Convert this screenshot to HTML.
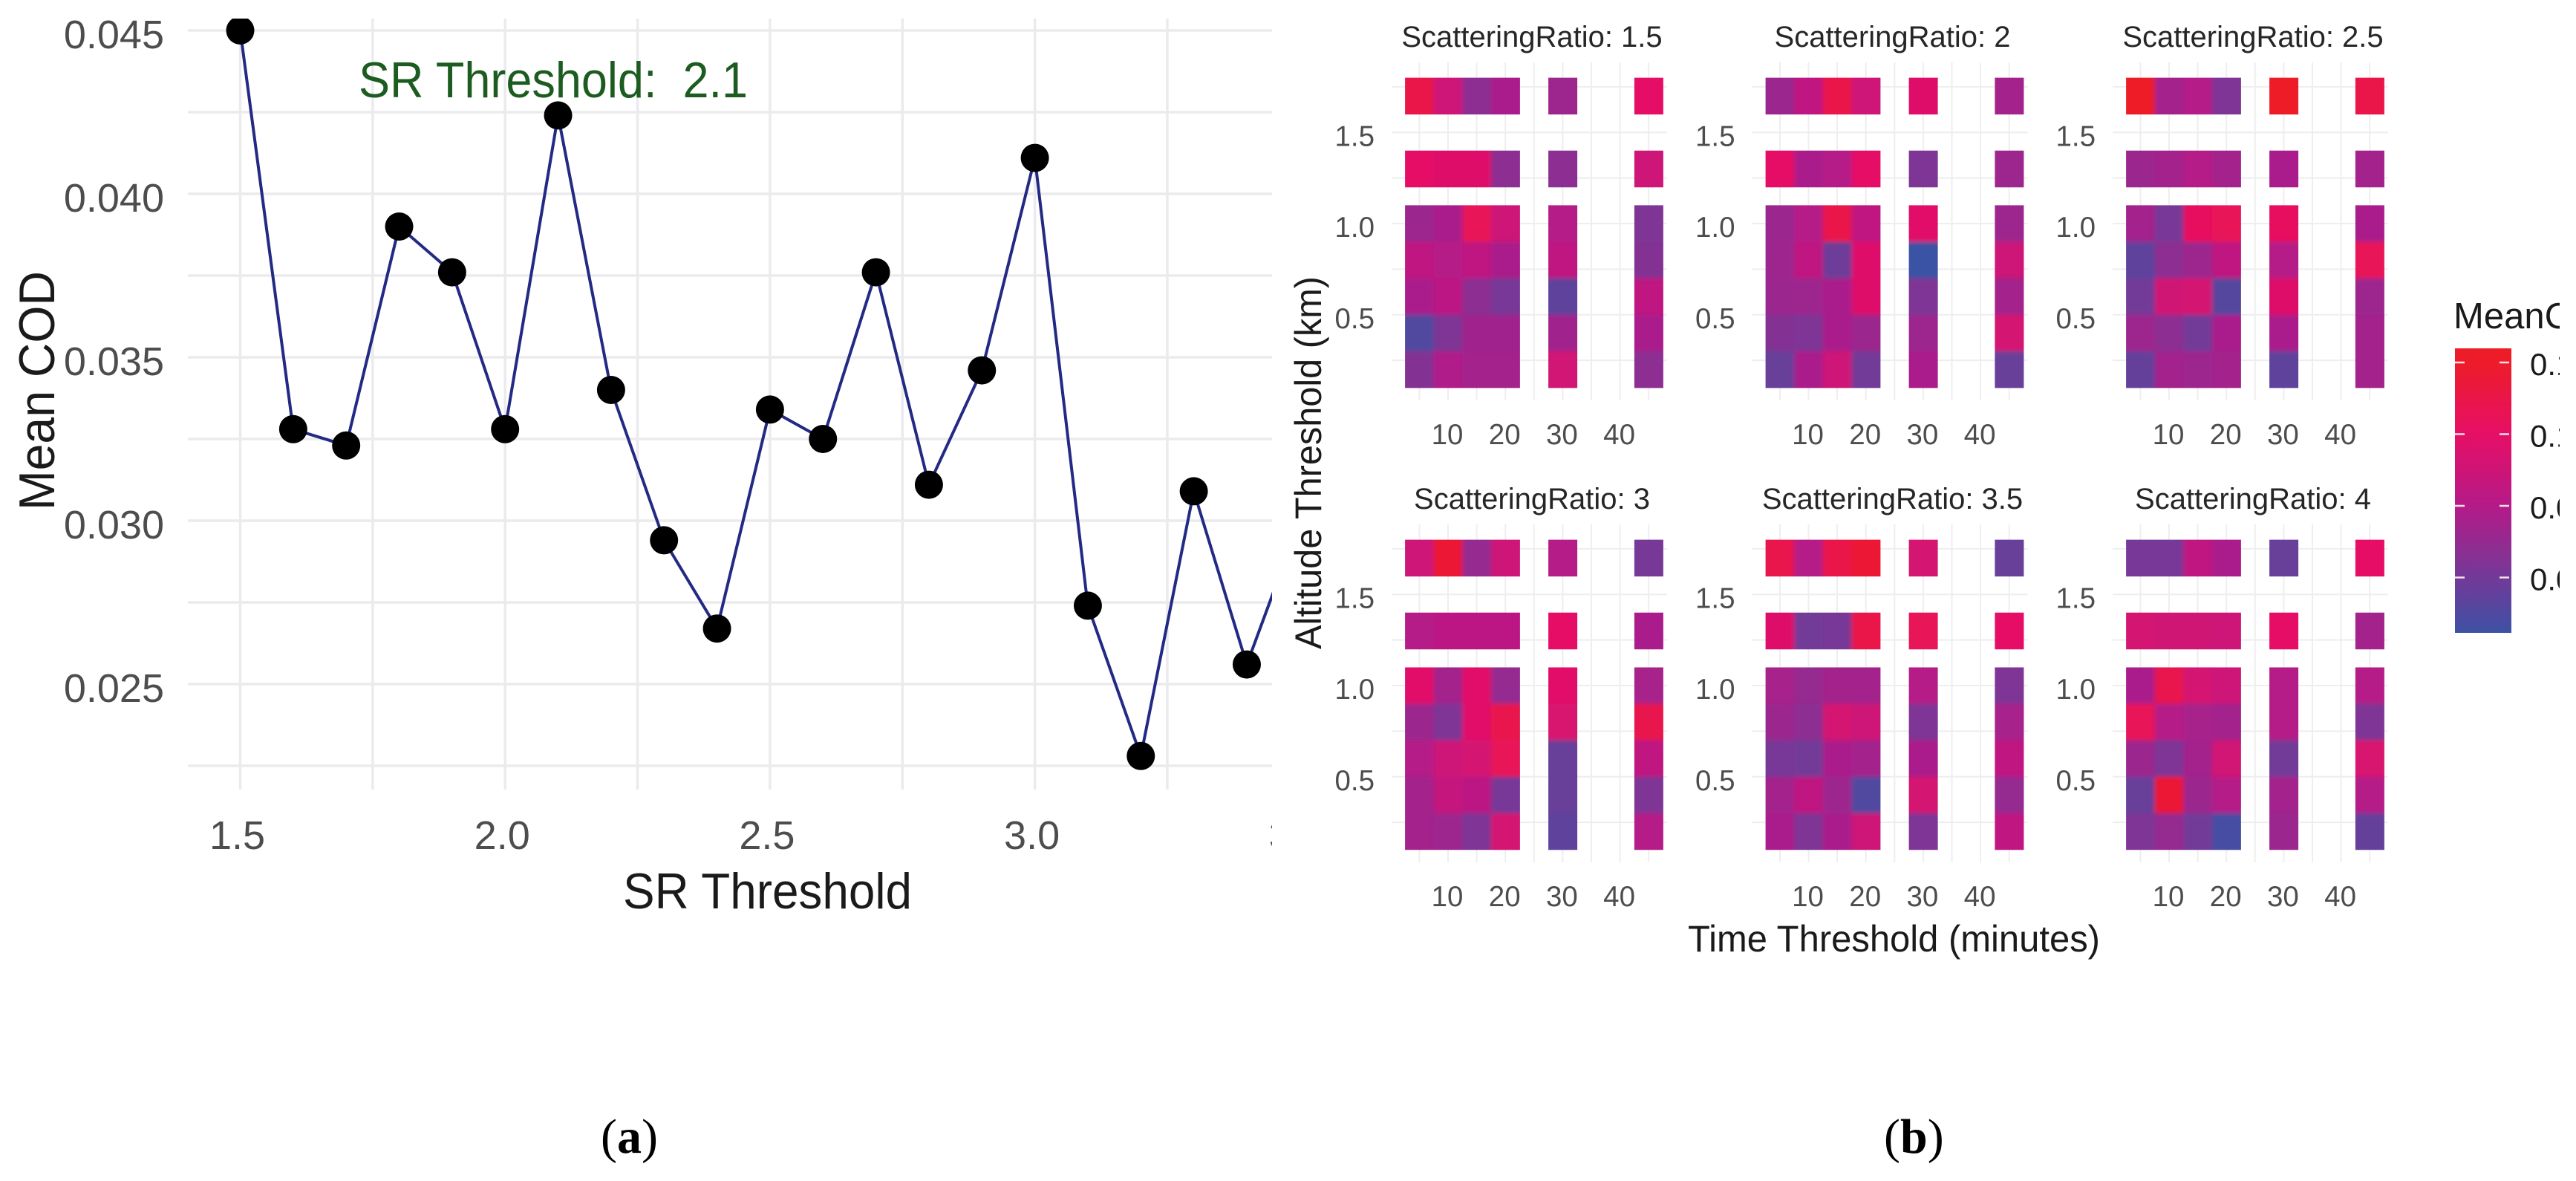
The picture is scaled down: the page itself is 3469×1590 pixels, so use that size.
<!DOCTYPE html>
<html lang="en">
<head>
<meta charset="utf-8">
<title>Mean COD by SR Threshold and heatmap panels</title>
<style>
html,body{margin:0;padding:0;background:#fff;}
svg{display:block;font-family:"Liberation Sans",sans-serif;}
</style>
</head>
<body>
<svg id="figure" xmlns="http://www.w3.org/2000/svg" width="3469" height="1590" viewBox="0 0 3469 1590">
  <defs>
    <clipPath id="left-clip"><rect x="0" y="25" width="1713" height="1180"/></clipPath>
    <clipPath id="legend-clip"><rect x="3290" y="390" width="157" height="480"/></clipPath>
    <linearGradient id="legend-gradient" x1="0" y1="1" x2="0" y2="0"></linearGradient>
    <filter id="tile-blur" x="-5%" y="-5%" width="110%" height="110%"><feGaussianBlur stdDeviation="3"/></filter>
  </defs>
  <rect x="0" y="0" width="3469" height="1590" fill="#ffffff"/>

  <g id="line-chart" clip-path="url(#left-clip)">
    <g id="line-grid"></g>
    <g id="line-ticks"></g>
    <path id="cod-line" fill="none" stroke="#232a84" stroke-width="4" stroke-linejoin="round"/>
    <g id="cod-points"></g>
  </g>
  <text x="483" y="131" font-size="68" fill="#1c5c20" textLength="524" lengthAdjust="spacingAndGlyphs" xml:space="preserve">SR Threshold:  2.1</text>
  <text x="839" y="1223" font-size="68" fill="#1a1a1a" textLength="389" lengthAdjust="spacingAndGlyphs">SR Threshold</text>
  <text transform="translate(73,687) rotate(-90)" x="0" y="0" font-size="68" fill="#1a1a1a" textLength="322" lengthAdjust="spacingAndGlyphs">Mean COD</text>

  <g id="heatmap-panels"></g>
  <text transform="translate(1779,874) rotate(-90)" x="0" y="0" font-size="50" fill="#1a1a1a" textLength="502" lengthAdjust="spacingAndGlyphs">Altitude Threshold (km)</text>
  <text x="2273" y="1281" font-size="50" fill="#1a1a1a" textLength="555" lengthAdjust="spacingAndGlyphs">Time Threshold (minutes)</text>

  <g id="legend" clip-path="url(#legend-clip)">
    <text x="3304" y="442" font-size="49" fill="#1a1a1a">MeanCOD</text>
    <rect id="legend-bar" x="3306" y="469" width="76" height="383" fill="url(#legend-gradient)"/>
    <g id="legend-ticks"></g>
  </g>

  <text x="809" y="1552" font-family="'Liberation Serif',serif" font-size="66" fill="#000">(<tspan font-weight="bold">a</tspan>)</text>
  <text x="2537" y="1552" font-family="'Liberation Serif',serif" font-size="66" fill="#000">(<tspan font-weight="bold">b</tspan>)</text>
</svg>

<script>
/* ---------- line chart data ---------- */
var srThresholds = [1.5,1.6,1.7,1.8,1.9,2.0,2.1,2.2,2.3,2.4,2.5,2.6,2.7,2.8,2.9,3.0,3.1,3.2,3.3,3.4,3.5];
var meanCOD = [0.0450,0.0328,0.0323,0.0390,0.0376,0.0328,0.0424,0.0340,0.0294,0.0267,0.0334,0.0325,0.0376,0.0311,0.0346,0.0411,0.0274,0.0228,0.0309,0.0256,0.0300];
var lineXTicks = ["1.5","2.0","2.5","3.0","3.5"];
var lineYTicks = ["0.025","0.030","0.035","0.040","0.045"];

/* ---------- heatmap data: rows follow altitudes, columns follow timeBins ---------- */
var timeBins = [5,10,15,20,30,45];
var altitudes = [1.7,1.3,1.0,0.8,0.6,0.4,0.2];
var timeTicks = ["10","20","30","40"];
var altitudeTicks = ["0.5","1.0","1.5"];
var panelTitles = ["ScatteringRatio: 1.5","ScatteringRatio: 2","ScatteringRatio: 2.5","ScatteringRatio: 3","ScatteringRatio: 3.5","ScatteringRatio: 4"];
var codSR15 = [
 [.112,.087,.060,.071,.066,.100],
 [.100,.096,.096,.060,.060,.087],
 [.065,.071,.106,.087,.075,.054],
 [.080,.075,.080,.071,.080,.056],
 [.071,.078,.060,.052,.043,.080],
 [.038,.054,.067,.067,.067,.071],
 [.056,.073,.068,.068,.090,.060]];
var codSR20 = [
 [.065,.080,.112,.087,.096,.068],
 [.100,.071,.075,.100,.054,.066],
 [.065,.075,.112,.080,.098,.066],
 [.066,.080,.048,.096,.030,.087],
 [.065,.066,.071,.096,.054,.068],
 [.056,.054,.071,.065,.066,.091],
 [.046,.071,.087,.050,.071,.046]];
var codSR25 = [
 [.130,.068,.075,.054,.130,.112],
 [.065,.068,.075,.068,.071,.068],
 [.068,.052,.103,.106,.103,.071],
 [.043,.060,.066,.080,.075,.106],
 [.050,.089,.091,.040,.096,.066],
 [.066,.060,.050,.071,.071,.068],
 [.045,.068,.066,.068,.043,.068]];
var codSR30 = [
 [.087,.120,.063,.087,.075,.052],
 [.075,.078,.078,.078,.100,.071],
 [.098,.068,.098,.063,.098,.070],
 [.065,.054,.098,.110,.093,.110],
 [.075,.087,.091,.106,.046,.080],
 [.068,.083,.078,.052,.046,.054],
 [.068,.066,.054,.091,.043,.075]];
var codSR35 = [
 [.110,.075,.112,.120,.091,.046],
 [.096,.050,.052,.112,.106,.100],
 [.070,.063,.068,.068,.075,.054],
 [.065,.060,.091,.087,.054,.070],
 [.052,.050,.071,.068,.071,.080],
 [.068,.080,.066,.038,.091,.063],
 [.071,.054,.071,.087,.054,.080]];
var codSR40 = [
 [.052,.052,.080,.071,.046,.100],
 [.091,.089,.089,.087,.100,.068],
 [.071,.110,.091,.087,.075,.075],
 [.106,.075,.070,.068,.075,.054],
 [.065,.054,.068,.090,.050,.093],
 [.046,.120,.065,.075,.068,.075],
 [.054,.063,.050,.034,.065,.045]];
var panelValues = [codSR15,codSR20,codSR25,codSR30,codSR35,codSR40];
var legendTicks = ["0.125","0.100","0.075","0.050"];

/* ---------- helpers ---------- */
var NS = "http://www.w3.org/2000/svg";
function mk(tag, attrs, parent){
  var el = document.createElementNS(NS, tag);
  for (var k in attrs) el.setAttribute(k, attrs[k]);
  parent.appendChild(el);
  return el;
}
/* colour scale */
var scaleV = [0.030,0.050,0.075,0.100,0.125,0.130];
var scaleC = [[59,82,164],[115,58,152],[181,26,136],[230,15,102],[238,28,42],[238,28,37]];
function fillOf(v){
  if (v <= scaleV[0]) return "rgb("+scaleC[0].join(",")+")";
  for (var i=1;i<scaleV.length;i++){
    if (v <= scaleV[i]){
      var t=(v-scaleV[i-1])/(scaleV[i]-scaleV[i-1]);
      var a=scaleC[i-1], b=scaleC[i];
      return "rgb("+Math.round(a[0]+(b[0]-a[0])*t)+","+Math.round(a[1]+(b[1]-a[1])*t)+","+Math.round(a[2]+(b[2]-a[2])*t)+")";
    }
  }
  return "rgb("+scaleC[5].join(",")+")";
}

/* ---------- line chart ---------- */
function lineX(sr){ return 323.5 + (sr-1.5)*713.4; }
function lineY(v){ return 41 + (0.045-v)*44000; }
(function(){
  var grid = document.getElementById("line-grid");
  var g;
  for (g=1.5; g<=3.51; g+=0.25){
    var vg = mk("line",{x1:lineX(g),x2:lineX(g),y1:25,y2:1063,stroke:"#ebebee","stroke-width":3.5},grid);
    
    
  }
  for (g=0.0225; g<=0.0451; g+=0.0025){
    var hg = mk("line",{x1:253,x2:1713,y1:lineY(g),y2:lineY(g),stroke:"#ebebee","stroke-width":3.5},grid);
    
    
  }
  var ticks = document.getElementById("line-ticks");
  lineXTicks.forEach(function(lbl){
    var t = mk("text",{x:lineX(parseFloat(lbl))-4,y:1143,"text-anchor":"middle","font-size":54,fill:"#4d4d4d"},ticks);
    t.textContent = lbl;
    
    
  });
  lineYTicks.forEach(function(lbl){
    var t = mk("text",{x:221,y:lineY(parseFloat(lbl))+24,"text-anchor":"end","font-size":54,fill:"#4d4d4d"},ticks);
    t.textContent = lbl;
    
    
  });
  var d = "";
  srThresholds.forEach(function(sr,i){ d += (i?"L":"M")+lineX(sr).toFixed(1)+" "+lineY(meanCOD[i]).toFixed(1); });
  document.getElementById("cod-line").setAttribute("d",d);
  var pts = document.getElementById("cod-points");
  srThresholds.forEach(function(sr,i){
    var c = mk("circle",{cx:lineX(sr),cy:lineY(meanCOD[i]),r:19,fill:"#000"},pts);
    
    
  });
})();

/* ---------- heatmaps ---------- */
var panelDX = [0,485.5,971,0,485.5,971];
var panelDY = [0,0,0,622,622,622];
function timeX(t,dx){ return 1950 + (t-10)*7.72 + dx; }
function altY(a,dy){ return 301 + (1-a)*245.5 + dy; }
(function(){
  var root = document.getElementById("heatmap-panels");
  var defs = document.querySelector("#figure defs");
  var bleed = 12;
  panelValues.forEach(function(rows,p){
    var dx=panelDX[p], dy=panelDY[p];
    var panel = mk("g",{},root);
    
    
    var g;
    for (g=5;g<=45;g+=5){
      var vg = mk("line",{x1:timeX(g,dx),x2:timeX(g,dx),y1:84+dy,y2:539+dy,stroke:"#eeeef0","stroke-width":2},panel);
      
      
    }
    for (g=0.25;g<=1.76;g+=0.25){
      var hg = mk("line",{x1:1874+dx,x2:2245+dx,y1:altY(g,dy),y2:altY(g,dy),stroke:"#eeeef0","stroke-width":2},panel);
      
      
    }
    var clip = mk("clipPath",{id:"tiles-clip-"+p},defs);
    var clipped = mk("g",{"clip-path":"url(#tiles-clip-"+p+")"},panel);
    
    
    var soft = mk("g",{filter:"url(#tile-blur)"},clipped);
    
    
    rows.forEach(function(row,r){
      row.forEach(function(v,c){
        var x0=timeX(timeBins[c]-2.5,dx), x1=timeX(timeBins[c]+2.5,dx);
        var y0=altY(altitudes[r]+0.1,dy), y1=altY(altitudes[r]-0.1,dy);
        mk("rect",{x:x0.toFixed(1),y:y0.toFixed(1),width:(x1-x0+0.4).toFixed(1),height:(y1-y0+0.4).toFixed(1)},clip);
        /* extend outer cells so the soft edge does not fade towards white */
        var l = (c===0||c>=4)?bleed:0, rr = (c>=3)?bleed:0;
        var t = (r<=2)?bleed:0, b = (r<=1||r===rows.length-1)?bleed:0;
        var cell = mk("rect",{x:(x0-l).toFixed(1),y:(y0-t).toFixed(1),width:(x1-x0+l+rr+0.4).toFixed(1),height:(y1-y0+t+b+0.4).toFixed(1),fill:fillOf(v)},soft);
        
        
      });
    });
    var title = mk("text",{x:2063+dx,y:63+dy,"text-anchor":"middle","font-size":40,fill:"#262626"},panel);
    title.textContent = panelTitles[p];
    
    
    timeTicks.forEach(function(lbl){
      var t = mk("text",{x:timeX(parseFloat(lbl),dx)-1,y:598+dy,"text-anchor":"middle","font-size":38.5,fill:"#4d4d4d"},panel);
      t.textContent = lbl;
      
      
    });
    altitudeTicks.forEach(function(lbl){
      var t = mk("text",{x:1851+dx,y:altY(parseFloat(lbl),dy)+18,"text-anchor":"end","font-size":38.5,fill:"#4d4d4d"},panel);
      t.textContent = lbl;
      
      
    });
  });
})();

/* ---------- legend ---------- */
function legendY(v){ return 488 + (0.125-v)*3860; }
(function(){
  var grad = document.getElementById("legend-gradient");
  var lo=legendVal(852), hi=legendVal(469);
  function legendVal(y){ return 0.125-(y-488)/3860; }
  for (var i=0;i<=20;i++){
    var v = lo+(hi-lo)*i/20;
    mk("stop",{offset:(i*5)+"%","stop-color":fillOf(v)},grad);
  }
  var g = document.getElementById("legend-ticks");
  legendTicks.forEach(function(lbl){
    var val=parseFloat(lbl), y=legendY(val);
    var a = mk("line",{x1:3306,x2:3319,y1:y,y2:y,stroke:"#f6dfe6","stroke-width":2.5},g);
    
    
    var b = mk("line",{x1:3366,x2:3379,y1:y,y2:y,stroke:"#f6dfe6","stroke-width":2.5},g);
    
    
    var t = mk("text",{x:3407,y:y+17,"font-size":42,fill:"#1a1a1a"},g);
    t.textContent = lbl;
    
    
  });
})();
</script>
</body>
</html>
